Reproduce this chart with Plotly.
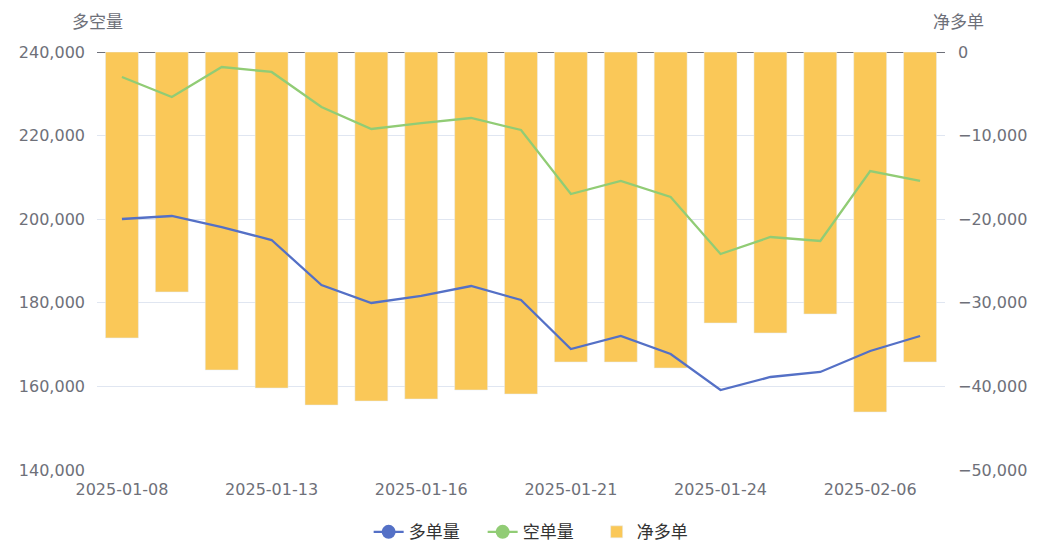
import plotly.graph_objects as go

dates = ["2025-01-08", "2025-01-09", "2025-01-10", "2025-01-13", "2025-01-14", "2025-01-15",
         "2025-01-16", "2025-01-17", "2025-01-20", "2025-01-21", "2025-01-22", "2025-01-23",
         "2025-01-24", "2025-01-27", "2025-02-05", "2025-02-06", "2025-02-07"]
long_vol = [200050, 200770, 198130, 195020, 184260, 179950, 181630, 184020, 180670,
            168950, 172060, 167750, 159140, 162250, 163450, 168470, 172060]
short_vol = [234020, 229230, 236410, 235220, 226840, 221580, 223010, 224210, 221340,
             206030, 209140, 205310, 191680, 195740, 194790, 211530, 209140]
net_long = [-34200, -28700, -38040, -40190, -42230, -41750, -41510, -40430, -40910,
            -37080, -37080, -37800, -32420, -33610, -31340, -43060, -37080]
tick_labels = ["2025-01-08", "2025-01-13", "2025-01-16", "2025-01-21", "2025-01-24", "2025-02-06"]

BLUE, GREEN, YELLOW = "#5470C6", "#91CC75", "#FAC858"
FONT = "DejaVu Sans, Noto Sans CJK SC"
CJK = "Noto Sans CJK SC"
GRAY = "#6E7079"

fig = go.Figure()
# bars on the primary (right-side) axis so the lines draw on top
fig.add_trace(go.Bar(x=dates, y=net_long, name="净多单", marker_color=YELLOW,
                     yaxis="y", width=0.66, showlegend=False))
fig.add_trace(go.Scatter(x=dates, y=long_vol, name="多单量", mode="lines", yaxis="y2",
                         line=dict(color=BLUE, width=2.3), showlegend=False))
fig.add_trace(go.Scatter(x=dates, y=short_vol, name="空单量", mode="lines", yaxis="y2",
                         line=dict(color=GREEN, width=2.3), showlegend=False))
# legend entries
fig.add_trace(go.Scatter(x=[None], y=[None], name="多单量", mode="lines+markers", yaxis="y2",
                         line=dict(color=BLUE, width=2.3), marker=dict(size=14, color=BLUE)))
fig.add_trace(go.Scatter(x=[None], y=[None], name="空单量", mode="lines+markers", yaxis="y2",
                         line=dict(color=GREEN, width=2.3), marker=dict(size=14, color=GREEN)))
fig.add_trace(go.Bar(x=[None], y=[None], name="净多单", marker_color=YELLOW))

fig.update_layout(
    width=1029, height=535,
    margin=dict(l=89, r=92, t=44, b=73, autoexpand=False),
    paper_bgcolor="white", plot_bgcolor="white",
    font=dict(family=FONT, size=16, color=GRAY),
    barmode="overlay",
    xaxis=dict(type="category", categoryorder="array", categoryarray=dates,
               tickmode="array", tickvals=tick_labels, ticktext=tick_labels,
               showgrid=False, showline=False, zeroline=False, ticks="",
               ticklabelstandoff=8, tickfont=dict(size=16, color=GRAY),
               range=[-0.5, len(dates) - 0.5], automargin=False),
    yaxis=dict(range=[-50000, 0], dtick=10000, tickformat=",", side="right",
               showgrid=True, gridcolor="#E0E6F1", gridwidth=1,
               zeroline=True, zerolinecolor=GRAY, zerolinewidth=1,
               showline=False, ticks="", ticklabelstandoff=12,
               tickfont=dict(size=16, color=GRAY), automargin=False),
    yaxis2=dict(range=[140000, 240000], dtick=20000, tickformat=",", overlaying="y",
                side="left", showgrid=False, zeroline=False, showline=False, ticks="",
                ticklabelstandoff=11, tickfont=dict(size=16, color=GRAY), automargin=False),
    legend=dict(orientation="h", x=0.522, xanchor="center", yref="container",
                y=0.02, yanchor="middle", entrywidth=69, entrywidthmode="pixels",
                font=dict(size=17, color="#333333", family=CJK),
                traceorder="normal"),
    annotations=[
        dict(text="多空量", xref="paper", yref="paper", x=0, y=1, yshift=32,
             xanchor="center", yanchor="middle", showarrow=False,
             font=dict(size=17, color=GRAY, family=CJK)),
        dict(text="净多单", xref="paper", yref="paper", x=1, y=1, yshift=32, xshift=13,
             xanchor="center", yanchor="middle", showarrow=False,
             font=dict(size=17, color=GRAY, family=CJK)),
    ],
)

fig.write_html("out.html")
